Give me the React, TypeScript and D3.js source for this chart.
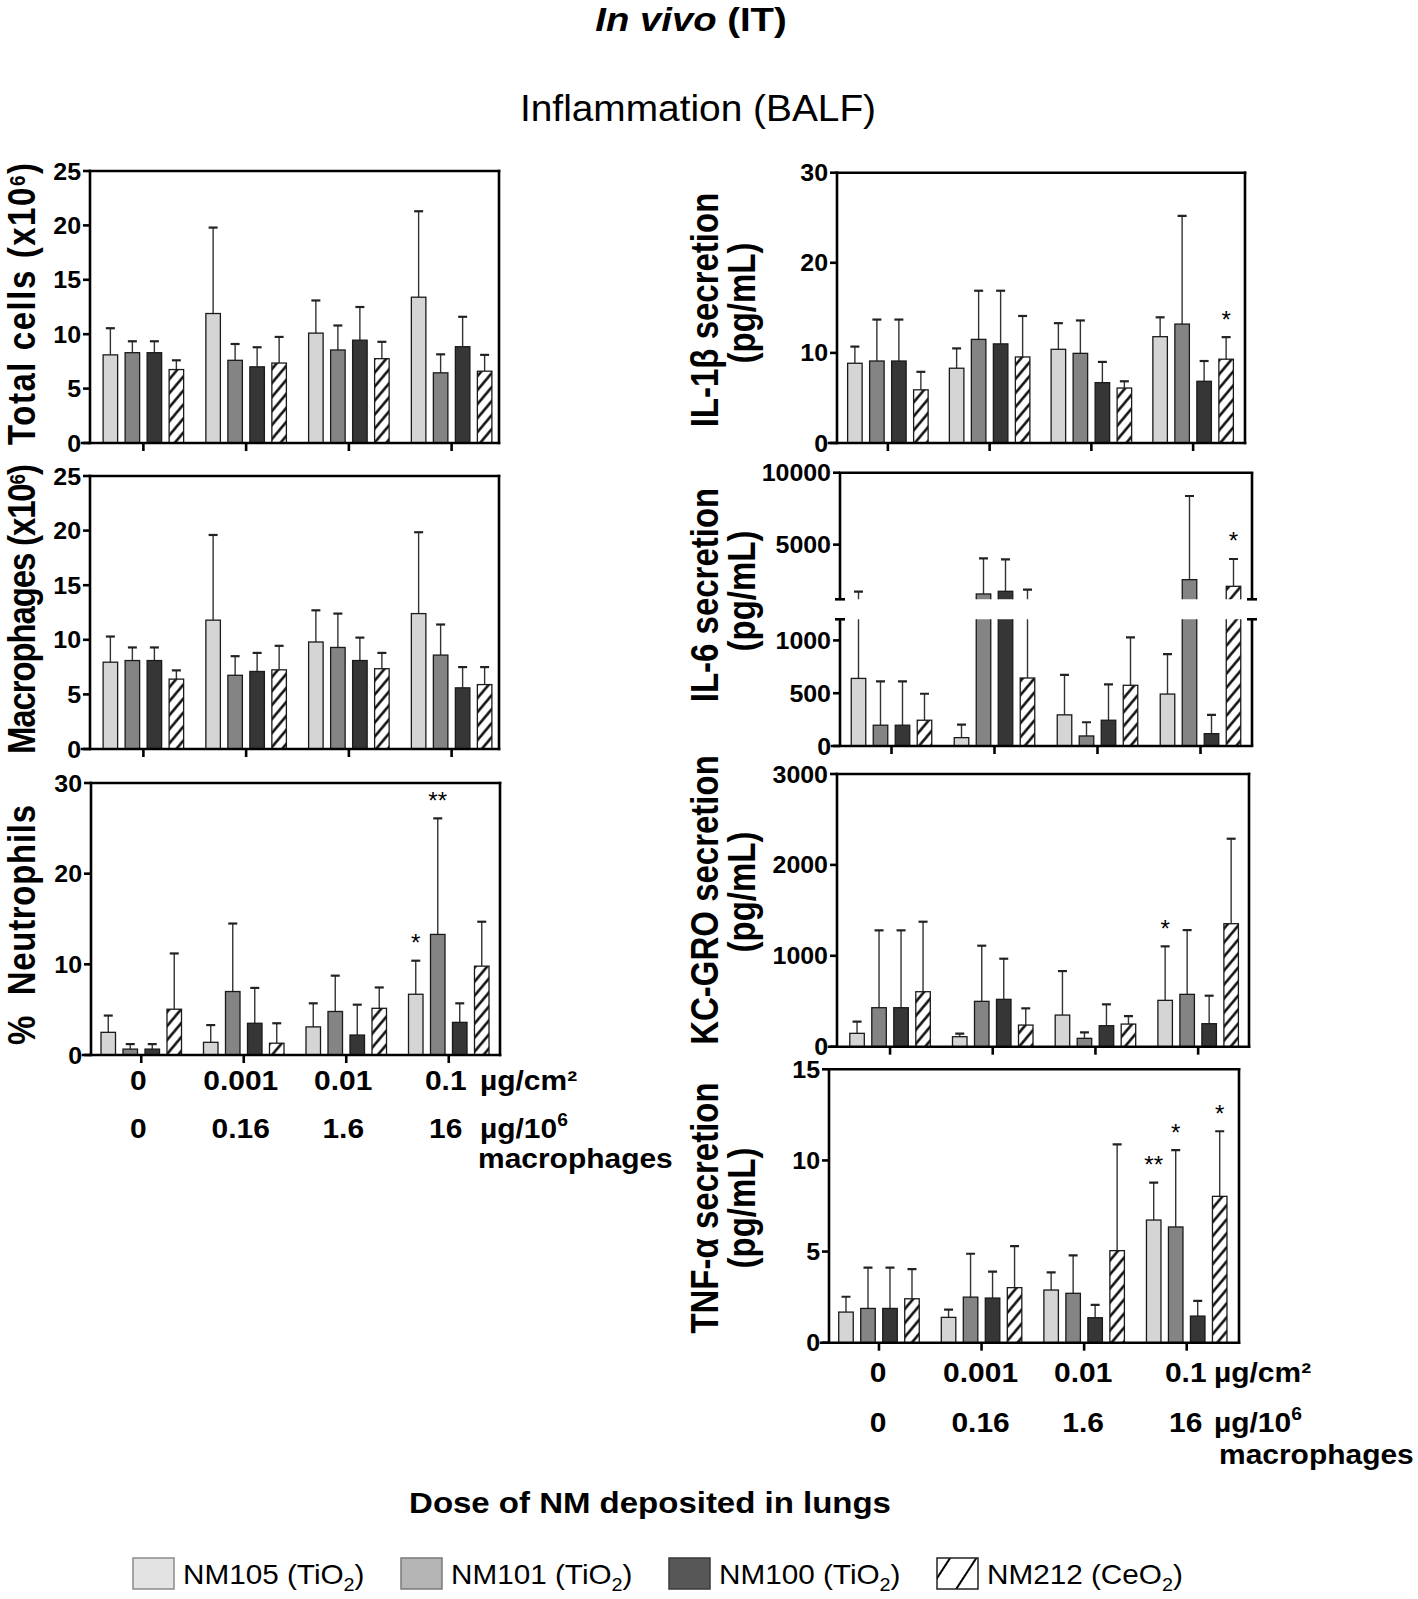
import React from 'react';
import * as d3 from 'd3';

// ---------------- DATA ----------------
const doseCm2 = ['0', '0.001', '0.01', '0.1'];
const doseMacro = ['0', '0.16', '1.6', '16'];
const seriesNames = ['NM105', 'NM101', 'NM100', 'NM212'];
const seriesOxide = ['TiO', 'TiO', 'TiO', 'CeO'];

// rows = dose groups, columns = series
const totalCellsMean = [[8.1, 8.3, 8.3, 6.75], [11.9, 7.6, 7.0, 7.35], [10.1, 8.55, 9.45, 7.75], [13.4, 6.45, 8.85, 6.6]];
const totalCellsSD = [[2.45, 1.05, 1.05, 0.85], [7.9, 1.5, 1.8, 2.4], [3.0, 2.25, 3.05, 1.55], [7.9, 1.7, 2.75, 1.5]];

const macrophagesMean = [[7.95, 8.1, 8.1, 6.4], [11.8, 6.75, 7.1, 7.25], [9.8, 9.3, 8.1, 7.35], [12.4, 8.6, 5.6, 5.9]];
const macrophagesSD = [[2.35, 1.2, 1.2, 0.8], [7.8, 1.75, 1.7, 2.2], [2.9, 3.1, 2.1, 1.45], [7.45, 2.8, 1.9, 1.6]];

const neutrophilsMean = [[2.5, 0.65, 0.65, 5.05], [1.4, 7.0, 3.5, 1.3], [3.1, 4.8, 2.2, 5.15], [6.7, 13.3, 3.6, 9.8]];
const neutrophilsSD = [[1.85, 0.55, 0.55, 6.15], [1.9, 7.5, 3.9, 2.2], [2.6, 3.95, 3.35, 2.3], [3.7, 12.8, 2.1, 4.9]];

const il1bMean = [[8.85, 9.1, 9.1, 5.9], [8.3, 11.5, 11.0, 9.55], [10.4, 9.95, 6.7, 6.1], [11.8, 13.2, 6.85, 9.3]];
const il1bSD = [[1.85, 4.6, 4.6, 2.0], [2.2, 5.4, 5.9, 4.55], [2.9, 3.65, 2.3, 0.75], [2.15, 12.0, 2.25, 2.45]];

const il6Mean = [[640, 197, 197, 244], [79, 1570, 1756, 644], [295, 95, 244, 575], [492, 2566, 117, 2103]];
const il6SD = [[1093, 416, 416, 251], [124, 2478, 2223, 1228], [378, 130, 340, 454], [378, 5813, 178, 1899]];

const kcgroMean = [[147, 429, 429, 605], [110, 499, 521, 238], [348, 92, 231, 249], [510, 576, 253, 1353]];
const kcgroSD = [[128, 851, 851, 770], [33, 612, 447, 184], [484, 66, 235, 88], [594, 707, 308, 935]];

const tnfMean = [[1.68, 1.88, 1.88, 2.41], [1.39, 2.5, 2.45, 3.02], [2.89, 2.71, 1.37, 5.05], [6.73, 6.35, 1.46, 8.03]];
const tnfSD = [[0.84, 2.24, 2.24, 1.63], [0.42, 2.38, 1.45, 2.28], [0.97, 2.08, 0.7, 5.83], [2.05, 4.22, 0.84, 3.57]];

// significance marks: [group, series, label]
const neutrophilsStars: [number, number, string][] = [[3, 0, '*'], [3, 1, '**']];
const il1bStars: [number, number, string][] = [[3, 3, '*']];
const il6Stars: [number, number, string][] = [[3, 3, '*']];
const kcgroStars: [number, number, string][] = [[3, 0, '*']];
const tnfStars: [number, number, string][] = [[3, 0, '**'], [3, 1, '*'], [3, 3, '*']];

const ticksCells = [0, 5, 10, 15, 20, 25];
const ticksNeut = [0, 10, 20, 30];
const ticksIL1b = [0, 10, 20, 30];
const ticksIL6Upper = [5000, 10000];
const ticksIL6Lower = [0, 500, 1000];
const ticksKC = [0, 1000, 2000, 3000];
const ticksTNF = [0, 5, 10, 15];
const il6Break = 1200;

// ---------------- STYLE ----------------
const FONT = "'Liberation Sans', Arial, Helvetica, sans-serif";
const barFill = ['#d5d5d5', '#848484', '#363636', 'url(#hatch)'];
const legendFill = ['#e3e3e3', '#b4b4b4', '#575757', 'url(#hatchLegend)'];
const legendStroke = ['#8a8a8a', '#7a7a7a', '#3a3a3a', '#222'];

type SegCfg = { domain: [number, number]; y0: number; y1: number; ticks: number[]; clip: [number, number] };
type PanelCfg = {
  id: string; left: number; right: number; top: number; bottom: number;
  band: [number, number]; segs: SegCfg[];
  title: React.ReactNode[]; titleX: number[]; titleY: number[]; titleLen?: number[];
};

function T({ x, y, sx = 1, rot = false, size, weight = 'bold', anchor = 'middle', italic = false, children, ws, len }: any) {
  return (
    <text
      transform={`translate(${x},${y}) scale(${sx},1)${rot ? ' rotate(-90)' : ''}`}
      fontSize={size}
      fontWeight={weight}
      textAnchor={anchor}
      fontFamily={FONT}
      fontStyle={italic ? 'italic' : 'normal'}
      fill="#000"
      textLength={len}
      lengthAdjust={len ? 'spacing' : undefined}
      style={ws ? { whiteSpace: 'pre' } : undefined}
    >
      {children}
    </text>
  );
}

function Panel({ L, mean, sd, stars = [] }: { L: PanelCfg; mean: number[][]; sd: number[][]; stars?: [number, number, string][] }) {
  const xg = d3.scaleBand<string>().domain(doseCm2).range(L.band);
  const xs = d3.scaleBand<string>().domain(seriesNames).range([-44, 44]).paddingInner(0.34).paddingOuter(0.17);
  const bw = xs.bandwidth();
  const gc = (g: number) => (xg(doseCm2[g]) as number) + xg.bandwidth() / 2;
  const cx = (g: number, s: number) => gc(g) + (xs(seriesNames[s]) as number) + bw / 2;
  const segs = L.segs.map((s) => ({ ...s, y: d3.scaleLinear().domain(s.domain).range([s.y1, s.y0]) }));
  const broken = segs.length > 1;
  const fmt = d3.format('d');

  return (
    <g>
      <defs>
        {segs.map((sg, i) => (
          <clipPath id={`${L.id}-clip${i}`} key={i}>
            <rect x={L.left - 20} y={sg.clip[0]} width={L.right - L.left + 40} height={sg.clip[1] - sg.clip[0]} />
          </clipPath>
        ))}
      </defs>
      {segs.map((sg, si) => (
        <g key={si} clipPath={`url(#${L.id}-clip${si})`}>
          {mean.map((row, g) =>
            row.map((v, s) => {
              const c = cx(g, s);
              const yv = sg.y(v);
              const y0 = sg.y(0);
              const ye = sg.y(v + sd[g][s]);
              return (
                <g key={`${g}-${s}`}>
                  <line x1={c} x2={c} y1={yv} y2={ye} stroke="#333" strokeWidth={1.4} />
                  <line x1={c - 4.5} x2={c + 4.5} y1={ye} y2={ye} stroke="#222" strokeWidth={2.2} />
                  <rect x={c - bw / 2} y={yv} width={bw} height={y0 - yv} fill={barFill[s]} stroke="#1a1a1a" strokeWidth={1.3} />
                </g>
              );
            })
          )}
        </g>
      ))}
      {stars.map(([g, s, lab], i) => {
        const top = mean[g][s] + sd[g][s];
        const sg = segs.find((q) => top >= q.domain[0] && top <= q.domain[1]) || segs[0];
        return (
          <T key={i} x={cx(g, s)} y={sg.y(top) - 9.5} size={23} weight="normal" sx={1.05}>
            {lab}
          </T>
        );
      })}
      <g stroke="#000" strokeWidth={2.6} fill="none">
        <line x1={L.left} x2={L.right} y1={L.top} y2={L.top} strokeLinecap="square" />
        <line x1={L.left - 8} x2={L.right} y1={L.bottom} y2={L.bottom} strokeLinecap="square" />
        {segs.map((sg, i) => (
          <g key={i}>
            <line x1={L.left} x2={L.left} y1={sg.y0} y2={sg.y1} strokeLinecap={broken ? 'butt' : 'square'} />
            <line x1={L.right} x2={L.right} y1={sg.y0} y2={sg.y1} strokeLinecap={broken ? 'butt' : 'square'} />
            {sg.ticks.map((t) => (
              <line key={t} x1={L.left - 7} x2={L.left} y1={sg.y(t)} y2={sg.y(t)} />
            ))}
          </g>
        ))}
        {broken &&
          segs.flatMap((sg, i) => {
            const yy = i === 0 ? sg.y1 : sg.y0;
            return [
              <line key={`a${i}`} x1={L.left - 5} x2={L.left + 5} y1={yy} y2={yy} />,
              <line key={`b${i}`} x1={L.right - 5} x2={L.right + 5} y1={yy} y2={yy} />,
            ];
          })}
        {doseCm2.map((d, g) => (
          <line key={d} x1={gc(g)} x2={gc(g)} y1={L.bottom} y2={L.bottom + 8} />
        ))}
      </g>
      {segs.map((sg, i) =>
        sg.ticks.map((t) => (
          <T key={`${i}-${t}`} x={L.left - 9} y={sg.y(t) + 8.5} size={24} anchor="end" sx={1.04}>
            {fmt(t)}
          </T>
        ))
      )}
      {L.title.map((line, i) => (
        <T key={i} x={L.titleX[i]} y={L.titleY[i]} size={33} rot sx={1.15} ws len={L.titleLen ? L.titleLen[i] : undefined}>
          {line}
        </T>
      ))}
    </g>
  );
}

function XLabels({ L, y1, y2, y3, ux, ux3, off }: { L: PanelCfg; y1: number; y2: number; y3: number; ux: number; ux3: number; off: number }) {
  const xg = d3.scaleBand<string>().domain(doseCm2).range(L.band);
  const c = (i: number) => (xg(doseCm2[i]) as number) + xg.bandwidth() / 2 + off;
  return (
    <g>
      {doseCm2.map((d, i) => (
        <T key={`a${i}`} x={c(i)} y={y1} size={28} sx={1.07}>{d}</T>
      ))}
      {doseMacro.map((d, i) => (
        <T key={`b${i}`} x={c(i)} y={y2} size={28} sx={1.07}>{d}</T>
      ))}
      <T x={ux} y={y1} size={28} sx={1.07} anchor="start">µg/cm²</T>
      <T x={ux} y={y2} size={28} sx={1.07} anchor="start">
        µg/10<tspan dy={-12} fontSize={18}>6</tspan>
      </T>
      <T x={ux3} y={y3} size={28} sx={1.07} anchor="start">macrophages</T>
    </g>
  );
}

const sup6 = (pre: string) => (
  <>
    {pre}
    <tspan dy={-9} fontSize={19}>6</tspan>
    <tspan dy={9}>)</tspan>
  </>
);

const cellsSeg = (y0: number, y1: number, max: number, ticks: number[]): SegCfg[] => [
  { domain: [0, max], y0, y1, ticks, clip: [y0 - 40, y1 + 10] },
];

const P1: PanelCfg = { id: 'p1', left: 90, right: 499, top: 171, bottom: 443, band: [92, 503], segs: cellsSeg(171, 443, 25, ticksCells), title: [sup6('Total cells (x10')], titleX: [35], titleY: [304], titleLen: [282] };
const P2: PanelCfg = { id: 'p2', left: 90, right: 499, top: 476, bottom: 749, band: [92, 503], segs: cellsSeg(476, 749, 25, ticksCells), title: [sup6('Macrophages (x10')], titleX: [35], titleY: [609], titleLen: [290] };
const P3: PanelCfg = { id: 'p3', left: 91, right: 500, top: 783, bottom: 1055, band: [90, 500], segs: cellsSeg(783, 1055, 30, ticksNeut), title: ['%\u00A0\u00A0Neutrophils'], titleX: [35], titleY: [925], titleLen: [240] };
const P4: PanelCfg = { id: 'p4', left: 837, right: 1245, top: 172.7, bottom: 443, band: [837, 1244], segs: cellsSeg(172.7, 443, 30, ticksIL1b), title: ['IL-1β secretion', '(pg/mL)'], titleX: [718, 755], titleY: [310, 303] };
const P5: PanelCfg = {
  id: 'p5', left: 840, right: 1252, top: 472.7, bottom: 746, band: [840, 1252],
  segs: [
    { domain: [il6Break, 10000], y0: 472.7, y1: 599.3, ticks: ticksIL6Upper, clip: [440, 599.3] },
    { domain: [0, il6Break], y0: 619.3, y1: 746, ticks: ticksIL6Lower, clip: [619.3, 760] },
  ],
  title: ['IL-6 secretion', '(pg/mL)'], titleX: [718, 755], titleY: [595, 591],
};
const P6: PanelCfg = { id: 'p6', left: 837, right: 1249, top: 774, bottom: 1046.7, band: [838.7, 1249.5], segs: cellsSeg(774, 1046.7, 3000, ticksKC), title: ['KC-GRO secretion', '(pg/mL)'], titleX: [718, 755], titleY: [900, 892] };
const P7: PanelCfg = { id: 'p7', left: 829, right: 1239, top: 1069.3, bottom: 1342.7, band: [827.7, 1238], segs: cellsSeg(1069.3, 1342.7, 15, ticksTNF), title: ['TNF-α secretion', '(pg/mL)'], titleX: [718, 755], titleY: [1208, 1208] };

export default function App() {
  const lx = d3.scaleLinear().domain([0, 3]).range([133, 937]);
  return (
    <svg width={1418} height={1599} style={{ position: 'absolute', left: 0, top: 0, display: 'block' }} xmlns="http://www.w3.org/2000/svg">
      <defs>
        <pattern id="hatch" patternUnits="userSpaceOnUse" width={9} height={9} patternTransform="rotate(40)">
          <rect width={9} height={9} fill="#fff" />
          <line x1={4.5} y1={-1} x2={4.5} y2={10} stroke="#000" strokeWidth={2.4} />
        </pattern>
        <pattern id="hatchLegend" patternUnits="userSpaceOnUse" width={22} height={22} patternTransform="translate(937,1558) rotate(33)">
          <rect width={22} height={22} fill="#fff" />
          <line x1={11} y1={-1} x2={11} y2={23} stroke="#000" strokeWidth={2} />
        </pattern>
      </defs>
      <rect width={1418} height={1599} fill="#fff" />

      <T x={691} y={31} size={33} sx={1.16}>
        <tspan fontStyle="italic">In vivo</tspan>
        <tspan>{' (IT)'}</tspan>
      </T>
      <T x={698} y={121} size={37} weight="normal" sx={1.05}>Inflammation (BALF)</T>

      <Panel L={P1} mean={totalCellsMean} sd={totalCellsSD} />
      <Panel L={P2} mean={macrophagesMean} sd={macrophagesSD} />
      <Panel L={P3} mean={neutrophilsMean} sd={neutrophilsSD} stars={neutrophilsStars} />
      <Panel L={P4} mean={il1bMean} sd={il1bSD} stars={il1bStars} />
      <Panel L={P5} mean={il6Mean} sd={il6SD} stars={il6Stars} />
      <Panel L={P6} mean={kcgroMean} sd={kcgroSD} stars={kcgroStars} />
      <Panel L={P7} mean={tnfMean} sd={tnfSD} stars={tnfStars} />

      <XLabels L={P3} y1={1090} y2={1138} y3={1168} ux={480} ux3={478} off={-3} />
      <XLabels L={P7} y1={1382} y2={1432} y3={1464} ux={1214} ux3={1219} off={-1} />

      <T x={650} y={1513} size={30} sx={1.1}>Dose of NM deposited in lungs</T>

      {seriesNames.map((n, i) => {
        const x = lx(i);
        return (
          <g key={n}>
            <rect x={x} y={1558} width={41} height={31} fill={legendFill[i]} stroke={legendStroke[i]} strokeWidth={1.5} />
            <T x={x + 50} y={1584} size={27} weight="normal" anchor="start" sx={1.1}>
              {`${n} (${seriesOxide[i]}`}
              <tspan dy={7} fontSize={18}>2</tspan>
              <tspan dy={-7}>)</tspan>
            </T>
          </g>
        );
      })}
    </svg>
  );
}
